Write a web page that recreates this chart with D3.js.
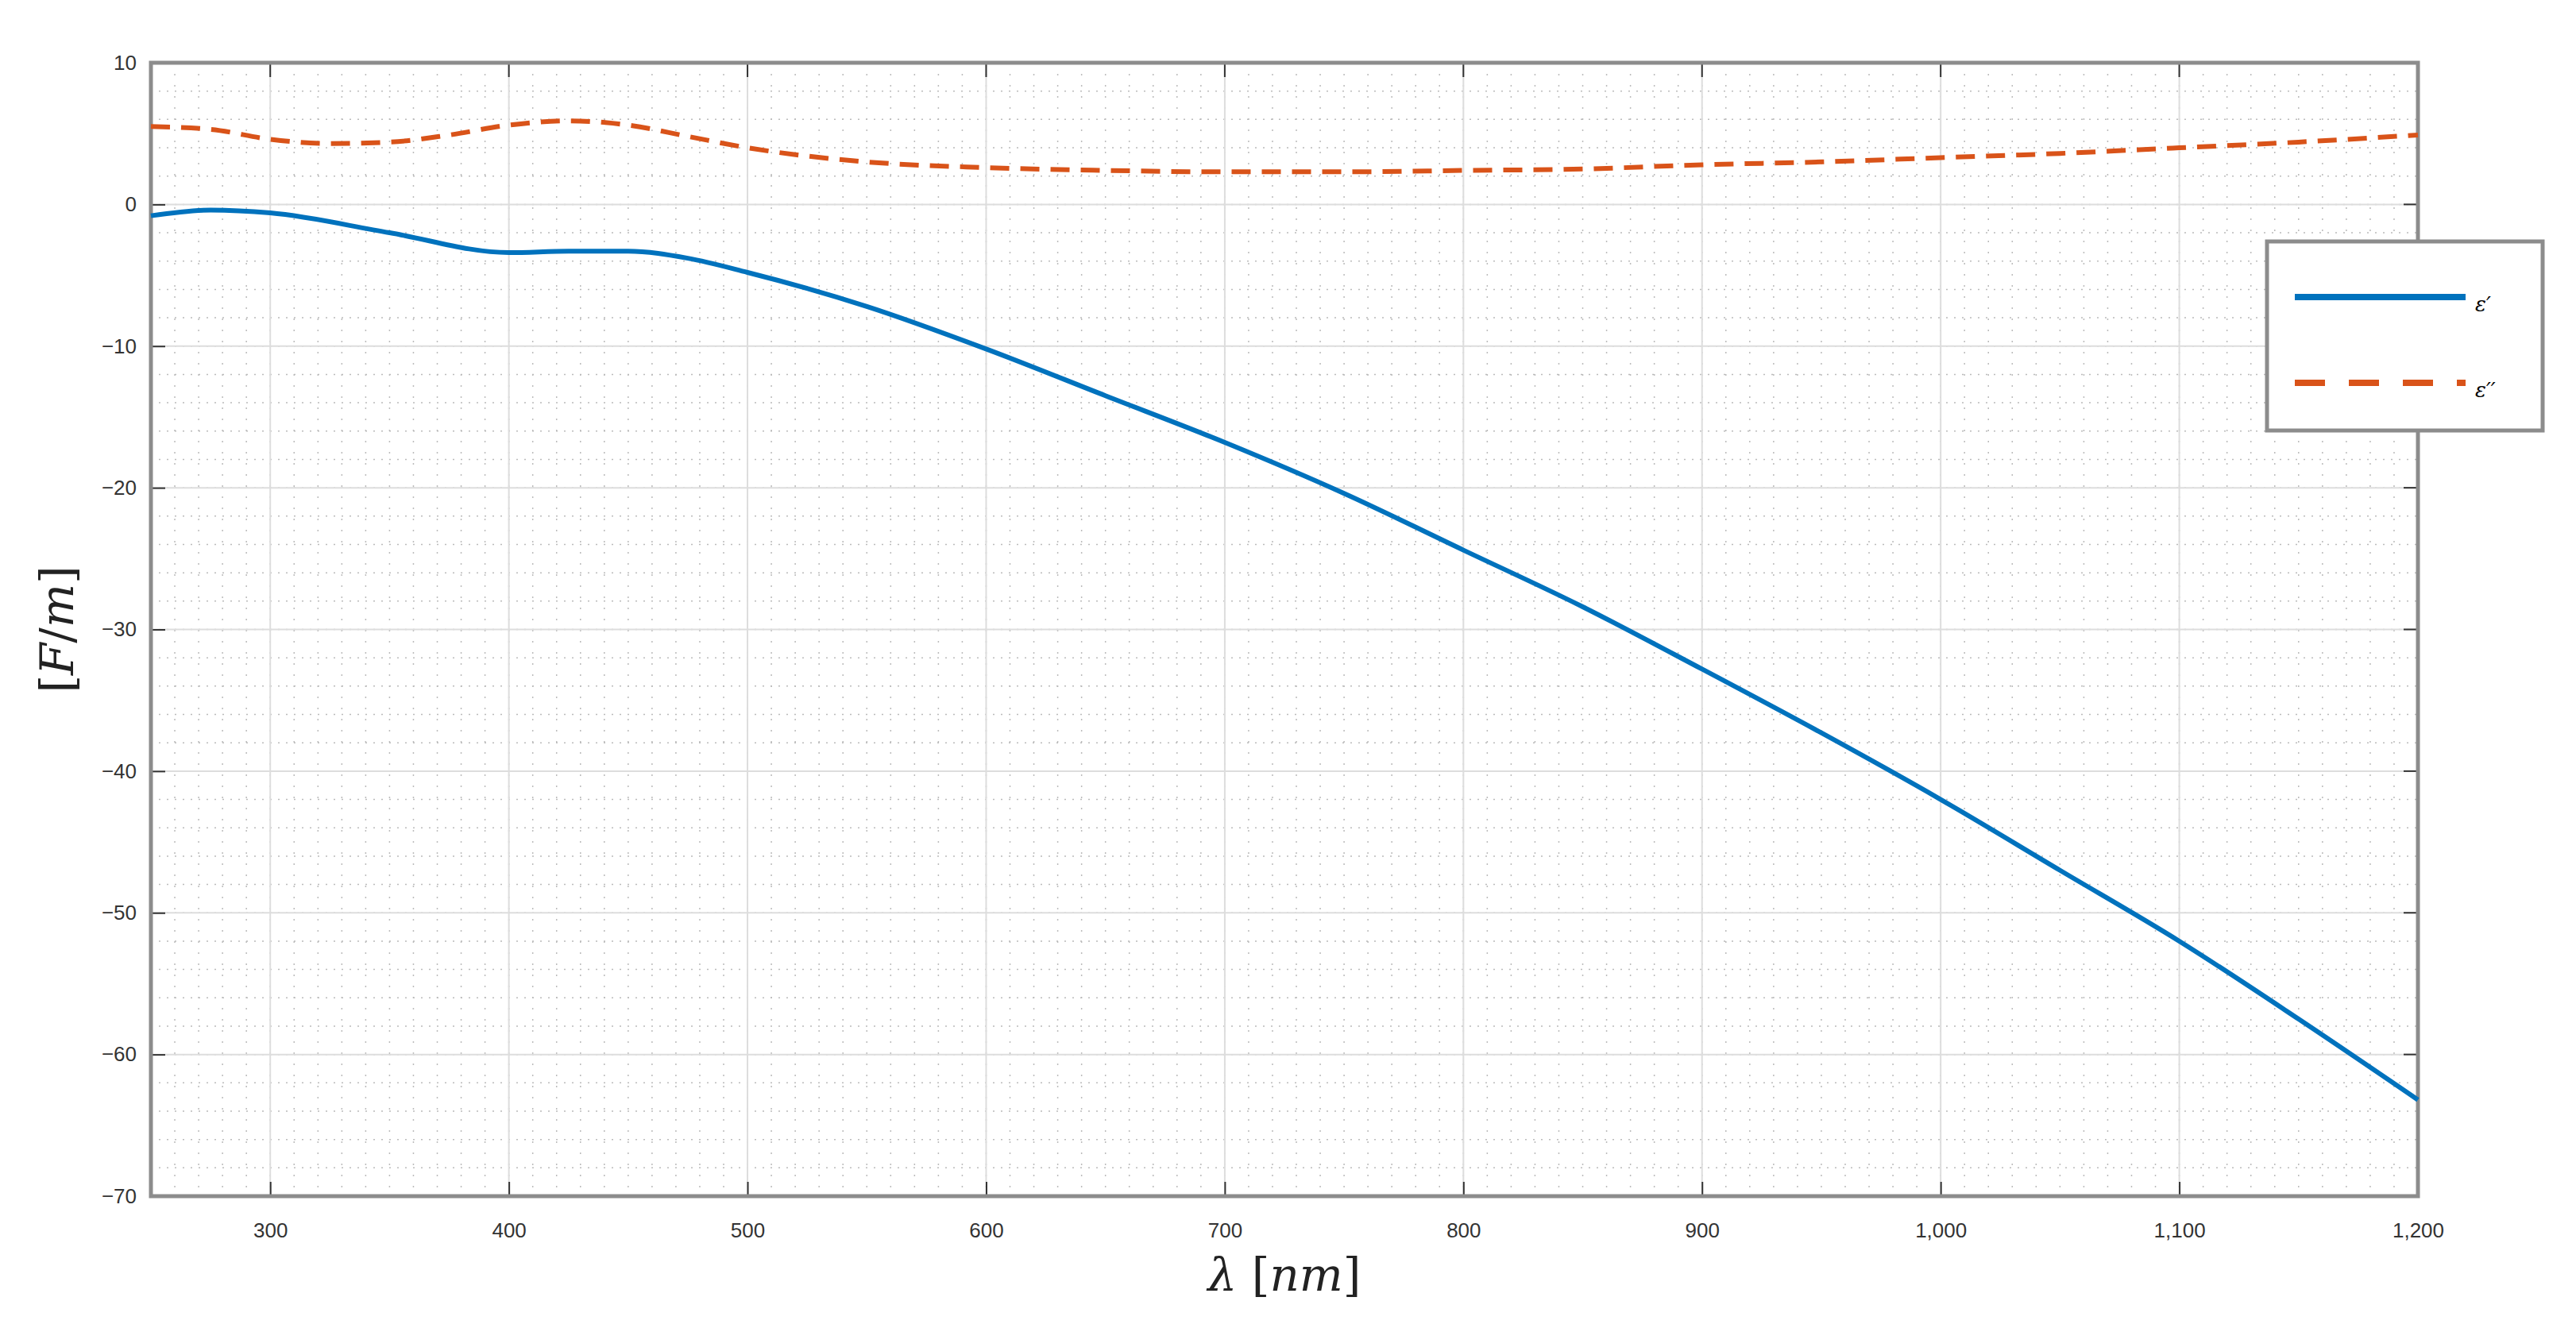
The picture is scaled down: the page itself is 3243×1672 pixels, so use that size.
<!DOCTYPE html>
<html><head><meta charset="utf-8">
<script src="https://cdn.jsdelivr.net/npm/d3@7"></script>
<style>body{margin:0;background:#fff}svg{display:block}</style>
</head><body><svg id="c" width="3243" height="1672"></svg>
<script>
// wavelength samples (nm) and permittivity parts
const lamReal = [250,275,300,350,400,425,450,475,500,550,600,650,700,750,800,850,900,950,1000,1050,1100,1150,1200];
const epsReal = [-0.8,-0.4,-0.6,-2,-3.4,-3.3,-3.3,-3.8,-4.8,-7.2,-10.2,-13.5,-16.8,-20.4,-24.4,-28.4,-32.8,-37.3,-42,-47,-52,-57.5,-63.2];
const lamImag = [250,275,300,325,350,375,400,425,450,475,500,550,600,650,700,750,800,850,900,950,1000,1050,1100,1150,1200];
const epsImag = [5.5,5.3,4.6,4.3,4.4,4.9,5.6,5.9,5.6,4.8,4.0,3.0,2.6,2.4,2.3,2.3,2.4,2.5,2.8,3.0,3.3,3.6,4.0,4.4,4.9];
const xTicks = [300,400,500,600,700,800,900,1000,1100,1200];
const yTicks = [10,0,-10,-20,-30,-40,-50,-60,-70];

const L = 190, R = 3044, T = 79, B = 1506;
const svg = d3.select("#c");
const x = d3.scaleLinear().domain([250,1200]).range([L,R]);
const y = d3.scaleLinear().domain([-70,10]).range([B,T]);

// minor grid (dotted)
const g = svg.append("g");
g.selectAll(".mx").data(d3.range(260,1200,10)).enter().append("line")
  .attr("x1",d=>x(d)).attr("x2",d=>x(d)).attr("y1",T).attr("y2",B)
  .attr("stroke","#bbb").attr("stroke-width",1.5).attr("stroke-dasharray","2,12");
g.selectAll(".my").data(d3.range(-70,10,2)).enter().append("line")
  .attr("y1",d=>y(d)).attr("y2",d=>y(d)).attr("x1",L).attr("x2",R)
  .attr("stroke","#bbb").attr("stroke-width",1.5).attr("stroke-dasharray","2,8");
// major grid
g.selectAll(".gx").data(xTicks).enter().append("line")
  .attr("x1",d=>x(d)).attr("x2",d=>x(d)).attr("y1",T).attr("y2",B)
  .attr("stroke","#ddd").attr("stroke-width",2);
g.selectAll(".gy").data(yTicks).enter().append("line")
  .attr("y1",d=>y(d)).attr("y2",d=>y(d)).attr("x1",L).attr("x2",R)
  .attr("stroke","#ddd").attr("stroke-width",2);

// axes with inward ticks
const fontT = "26px 'Liberation Sans', Arial, sans-serif";
const xa = svg.append("g").attr("transform",`translate(0,${B})`)
  .call(d3.axisBottom(x).tickValues(xTicks).tickSize(-18).tickPadding(34));
const ya = svg.append("g").attr("transform",`translate(${L},0)`)
  .call(d3.axisLeft(y).tickValues(yTicks).tickSize(-18).tickPadding(18));
[xa,ya].forEach(a=>{
  a.select(".domain").remove();
  a.selectAll("line").attr("stroke","#333").attr("stroke-width",2);
  a.selectAll("text").style("font",fontT).attr("fill","#333");
});
// top & right ticks
svg.selectAll(".tt").data(xTicks).enter().append("line")
  .attr("x1",d=>x(d)).attr("x2",d=>x(d)).attr("y1",T).attr("y2",T+18).attr("stroke","#333").attr("stroke-width",2);
svg.selectAll(".rt").data(yTicks).enter().append("line")
  .attr("y1",d=>y(d)).attr("y2",d=>y(d)).attr("x1",R).attr("x2",R-18).attr("stroke","#333").attr("stroke-width",2);

svg.append("rect").attr("x",L).attr("y",T).attr("width",R-L).attr("height",B-T)
  .attr("fill","none").attr("stroke","#8c8c8c").attr("stroke-width",5);

const line = d3.line().curve(d3.curveMonotoneX);
svg.append("path").attr("d",line(lamReal.map((d,i)=>[x(d),y(epsReal[i])])))
  .attr("fill","none").attr("stroke","#0072bd").attr("stroke-width",6);
svg.append("path").attr("d",line(lamImag.map((d,i)=>[x(d),y(epsImag[i])])))
  .attr("fill","none").attr("stroke","#d95319").attr("stroke-width",6).attr("stroke-dasharray","24,14");

// legend
const lg = svg.append("g").attr("transform","translate(2854,304)");
lg.append("rect").attr("width",347).attr("height",238).attr("fill","#fff").attr("stroke","#8c8c8c").attr("stroke-width",5);
lg.append("line").attr("x1",35).attr("x2",250).attr("y1",70).attr("y2",70).attr("stroke","#0072bd").attr("stroke-width",8);
lg.append("line").attr("x1",35).attr("x2",250).attr("y1",178).attr("y2",178).attr("stroke","#d95319").attr("stroke-width",8).attr("stroke-dasharray","38,30");
lg.append("text").attr("x",262).attr("y",88).text("ε′").style("font","italic 26px 'DejaVu Serif', serif");
lg.append("text").attr("x",262).attr("y",196).text("ε′′").style("font","italic 26px 'DejaVu Serif', serif");

// axis labels
svg.append("text").attr("x",(L+R)/2).attr("y",1625).attr("text-anchor","middle")
  .style("font","58px 'DejaVu Serif', serif").attr("fill","#222")
  .html("<tspan font-style='italic'>λ</tspan> [<tspan font-style='italic'>nm</tspan>]");
svg.append("text").attr("transform",`translate(92,${(T+B)/2}) rotate(-90)`).attr("text-anchor","middle")
  .style("font","58px 'DejaVu Serif', serif").attr("fill","#222")
  .html("[<tspan font-style='italic'>F</tspan>/<tspan font-style='italic'>m</tspan>]");
</script></body></html>
